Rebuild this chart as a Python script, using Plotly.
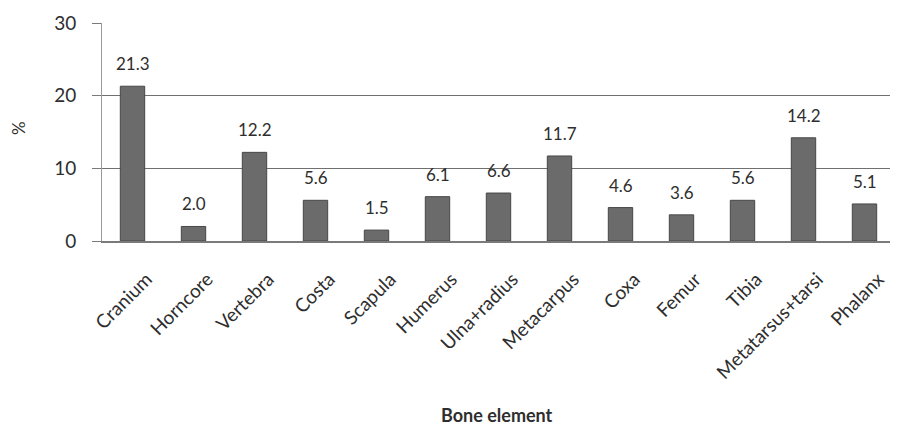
import plotly.graph_objects as go

categories = ["Cranium", "Horncore", "Vertebra", "Costa", "Scapula", "Humerus",
              "Ulna+radius", "Metacarpus", "Coxa", "Femur", "Tibia",
              "Metatarsus+tarsi", "Phalanx"]
percent = [21.3, 2.0, 12.2, 5.6, 1.5, 6.1, 6.6, 11.7, 4.6, 3.6, 5.6, 14.2, 5.1]
y_ticks = [0, 10, 20, 30]

font_family = "Lato, 'Open Sans', sans-serif"
txt_color = "#2e2e2e"

# page is offset by 8px body margin; sizes below are in figure coords
W, H = 890, 419
L, R, T, B = 94, 3, 15, 186
plot_w = W - L - R
plot_h = H - T - B

fig = go.Figure(go.Bar(
    x=categories,
    y=percent,
    marker=dict(color="#6b6b6b", line=dict(color="#474747", width=1)),
    hoverinfo="x+y",
))

for c, v in zip(categories, percent):
    fig.add_annotation(x=c, y=v, xref="x", yref="y", text=f"{v:.1f}",
                       showarrow=False, yanchor="bottom", yshift=10,
                       font=dict(size=17, color=txt_color, family=font_family))

fig.update_layout(
    width=W, height=H,
    margin=dict(l=L, r=R, t=T, b=B),
    paper_bgcolor="white", plot_bgcolor="white",
    bargap=0.6,
    showlegend=False,
    font=dict(family=font_family, color=txt_color),
)

fig.update_xaxes(
    tickangle=-45,
    tickfont=dict(size=19, color=txt_color),
    showline=True, linecolor="#7a7a7a", linewidth=1.5,
    showgrid=False,
    ticks="",
    ticklabelshift=14,
    ticklabelstandoff=18,
    automargin=False,
)
fig.update_yaxes(
    range=[0, 30],
    tickvals=y_ticks,
    tickfont=dict(size=19, color=txt_color),
    showline=True, linecolor="#9a9a9a", linewidth=1,
    showgrid=True, gridcolor="#707070", gridwidth=1,
    ticks="outside", ticklen=9, tickcolor="#7a7a7a",
    ticklabelstandoff=12,
    zeroline=False,
    automargin=False,
)

# axis titles
fig.add_annotation(text="<b>Bone element</b>", xref="paper", yref="paper",
                   x=(489 - L) / plot_w, y=-(407 - (T + plot_h)) / plot_h,
                   xanchor="center", yanchor="middle",
                   showarrow=False, font=dict(size=18, color=txt_color))
fig.add_annotation(text="%", xref="paper", yref="paper", textangle=-90,
                   x=(10 - L) / plot_w, y=((T + plot_h) - 120) / plot_h,
                   xanchor="center", yanchor="middle",
                   showarrow=False, font=dict(size=17, color=txt_color))

fig.write_html("out.html")
